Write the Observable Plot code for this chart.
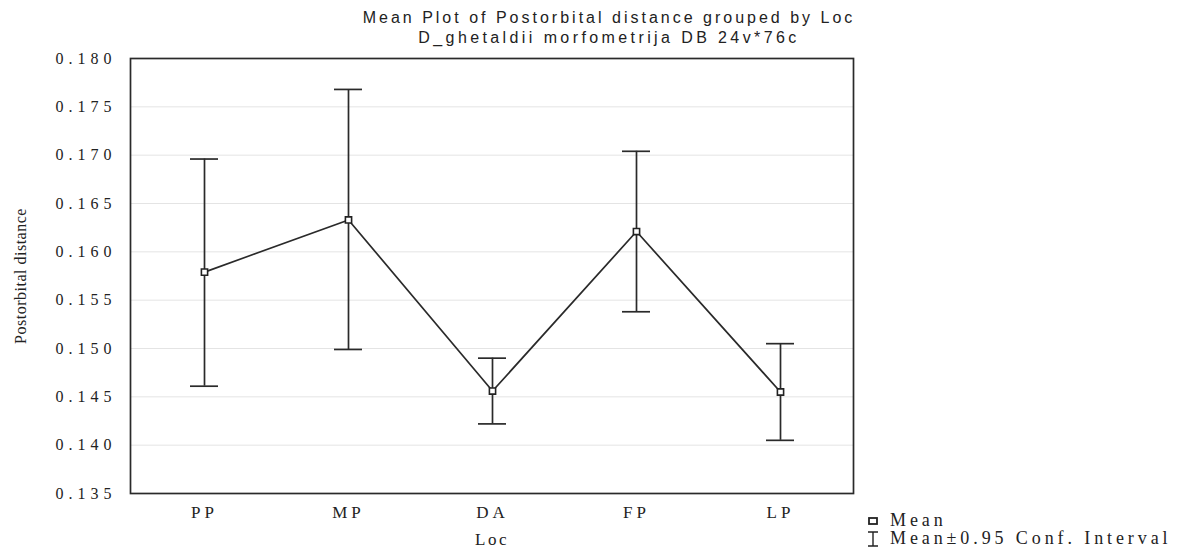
<!DOCTYPE html>
<html>
<head>
<meta charset="utf-8">
<script src="https://cdn.jsdelivr.net/npm/d3@7"></script>
<script src="https://cdn.jsdelivr.net/npm/@observablehq/plot@0.6"></script>
<style>
  html, body { margin: 0; padding: 0; background: #fff; }
  #wrap { position: relative; width: 1182px; height: 551px; overflow: hidden; }
  .title { position: absolute; left: 0; width: 1218px; text-align: center; font-family: "Liberation Sans", Arial, sans-serif; font-size: 16px; color: #222; }
  .leg { position: absolute; font-family: "Liberation Serif", serif; font-size: 18px; letter-spacing: 3.9px; color: #222; display: flex; align-items: center; white-space: nowrap; }
  .leg svg { margin-right: 10px; }
  #chart g[aria-label="y-axis tick label"] text { font-size: 16px; letter-spacing: 5px; }
  #chart g[aria-label="x-axis tick label"] text { font-size: 17px; letter-spacing: 4px; }
  #chart g[aria-label="y-axis label"] text { font-size: 16px; letter-spacing: 0.5px; }
  #chart g[aria-label="x-axis label"] text { font-size: 17px; letter-spacing: 2.5px; }
</style>
</head>
<body>
<div id="wrap">
  <div class="title" style="top:9px; letter-spacing:3px">Mean Plot of Postorbital distance grouped by Loc</div>
  <div class="title" style="top:29px; letter-spacing:3.4px">D_ghetaldii morfometrija DB 24v*76c</div>
  <div id="chart"></div>
  <div class="leg" style="left:866px; top:510px"><svg width="14" height="12"><rect x="3" y="3" width="8" height="6" fill="#fff" stroke="#222" stroke-width="1.8"/></svg>Mean</div>
  <div class="leg" style="left:866px; top:528px"><svg width="14" height="18"><path d="M2,2H12M7,2V16M2,16H12" stroke="#222" stroke-width="1.4" fill="none"/></svg>Mean±0.95 Conf. Interval</div>
</div>
<script>
const locs = ["PP", "MP", "DA", "FP", "LP"];
const means = [0.1579, 0.1633, 0.1456, 0.1621, 0.1455];
const lower = [0.1461, 0.1499, 0.1422, 0.1538, 0.1405];
const upper = [0.1696, 0.1768, 0.1490, 0.1704, 0.1505];
const yTicks = [0.135, 0.140, 0.145, 0.150, 0.155, 0.160, 0.165, 0.170, 0.175, 0.180];

const data = locs.map((loc, i) => ({loc, mean: means[i], lo: lower[i], hi: upper[i]}));

const chart = Plot.plot({
  width: 1182,
  height: 551,
  marginLeft: 130,
  marginRight: 329,
  marginTop: 58,
  marginBottom: 58,
  style: {fontFamily: "'Liberation Serif', serif", fontSize: "16px", color: "#222", background: "#fff"},
  x: {type: "band", domain: locs, padding: 0, label: null},
  y: {domain: [0.135, 0.180], ticks: yTicks, tickFormat: ".3f", label: null},
  marks: [
    Plot.gridY(yTicks, {stroke: "#e4e4e4", strokeOpacity: 1, strokeWidth: 1}),
    Plot.frame({stroke: "#2a2a2a", strokeWidth: 1.7}),
    Plot.axisY(yTicks, {tickSize: 0, tickPadding: 14, tickFormat: ".3f", label: "Postorbital distance", labelAnchor: "center", labelArrow: "none", labelOffset: 116}),
    Plot.axisX({tickSize: 0, tickPadding: 12, label: "Loc", labelAnchor: "center", labelArrow: "none", labelOffset: 51}),
    Plot.ruleX(data, {x: "loc", y1: "lo", y2: "hi", stroke: "#2a2a2a", strokeWidth: 1.7}),
    Plot.tickY(data, {x: "loc", y: "hi", stroke: "#2a2a2a", strokeWidth: 1.7, insetLeft: 58, insetRight: 58}),
    Plot.tickY(data, {x: "loc", y: "lo", stroke: "#2a2a2a", strokeWidth: 1.7, insetLeft: 58, insetRight: 58}),
    Plot.line(data, {x: "loc", y: "mean", stroke: "#2a2a2a", strokeWidth: 1.7}),
    Plot.dot(data, {x: "loc", y: "mean", symbol: "square", r: 3.5, fill: "#fff", stroke: "#222", strokeWidth: 1.6})
  ]
});
document.getElementById("chart").appendChild(chart);
</script>
</body>
</html>
